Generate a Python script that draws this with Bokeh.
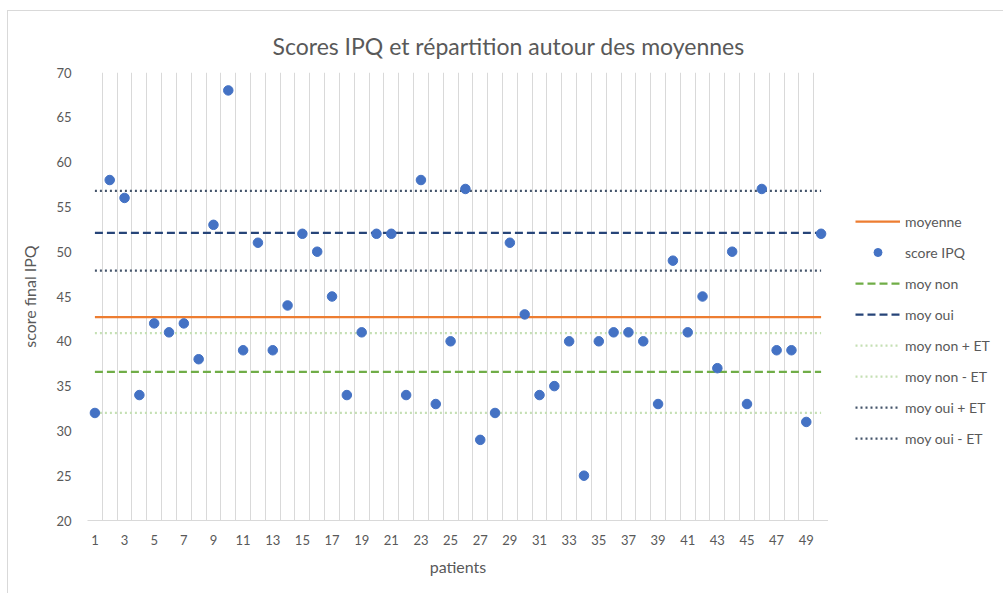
from bokeh.plotting import figure
from bokeh.layouts import row
from bokeh.models import FixedTicker, Legend, LegendItem
from bokeh.embed import file_html
from bokeh.resources import INLINE

patients = list(range(1, 51))
scores = [32, 58, 56, 34, 42, 41, 42, 38, 53, 68,
          39, 51, 39, 44, 52, 50, 45, 34, 41, 52,
          52, 34, 58, 33, 40, 57, 29, 32, 51, 43,
          34, 35, 40, 25, 40, 41, 41, 40, 33, 49,
          41, 45, 37, 50, 33, 57, 39, 39, 31, 52]
moyenne = 42.7
moy_non = 36.6
moy_oui = 52.1
moy_non_plus_et = 40.9
moy_non_moins_et = 32.0
moy_oui_plus_et = 56.8
moy_oui_moins_et = 47.9
x_tick_labels = [str(i) for i in range(1, 50, 2)]
y_ticks = list(range(20, 71, 5))
legend_labels = ["moyenne", "score IPQ", "moy non", "moy oui",
                 "moy non + ET", "moy non - ET", "moy oui + ET", "moy oui - ET"]

FONT = "Lato"
GRAY = "#595959"
H = 582

p = figure(width=820, height=H, output_backend="svg", toolbar_location=None,
           x_range=(0.5, 50.5), y_range=(20, 70),
           min_border_left=79, min_border_right=0, min_border_top=61, min_border_bottom=73,
           title="Scores IPQ et répartition autour des moyennes")
p.outline_line_color = None
p.background_fill_color = "white"
p.border_fill_color = "white"

p.title.align = "left"
p.title.offset = 185
p.title.text_font = FONT
p.title.text_font_size = "23px"
p.title.text_font_style = "normal"
p.title.text_color = GRAY
p.title.standoff = 26
p.title.text_line_height = 0.7

# x axis
p.xaxis.ticker = FixedTicker(ticks=list(range(1, 50, 2)))
p.xaxis.major_label_overrides = {i: lbl for i, lbl in zip(range(1, 50, 2), x_tick_labels)}
p.xaxis.axis_label = "patients"
p.xaxis.axis_line_color = "#d9d9d9"
p.xaxis.axis_line_width = 1
p.xaxis.major_tick_line_color = None
p.xaxis.minor_tick_line_color = None
p.xaxis.major_label_standoff = 8
p.xaxis.axis_label_standoff = 9

# y axis
p.yaxis.ticker = FixedTicker(ticks=y_ticks)
p.yaxis.axis_label = "score final IPQ"
p.yaxis.axis_line_color = None
p.yaxis.major_tick_line_color = None
p.yaxis.minor_tick_line_color = None
p.yaxis.major_label_standoff = 10
p.yaxis.axis_label_standoff = 14

for ax in (p.xaxis[0], p.yaxis[0]):
    ax.major_label_text_font = FONT
    ax.major_label_text_font_size = "13px"
    ax.major_label_text_color = GRAY
    ax.axis_label_text_font = FONT
    ax.axis_label_text_font_size = "16px"
    ax.axis_label_text_font_style = "normal"
    ax.axis_label_text_color = GRAY

p.ygrid.grid_line_color = None
p.xgrid.ticker = FixedTicker(ticks=[i + 0.5 for i in range(0, 51)])
p.xgrid.grid_line_color = "#d9d9d9"
p.xgrid.grid_line_width = 1

styles = [
    dict(kind="line", line_color="#ED7D31", line_width=2.25),
    dict(kind="dot", color="#4472C4"),
    dict(kind="line", line_color="#70AD47", line_width=2.25, line_dash="8 4"),
    dict(kind="line", line_color="#264478", line_width=2.25, line_dash="8 4"),
    dict(kind="line", line_color="#C5E0B4", line_width=2.25, line_dash="2 3"),
    dict(kind="line", line_color="#C5E0B4", line_width=2.25, line_dash="2 3"),
    dict(kind="line", line_color="#44546A", line_width=2.25, line_dash="2 3"),
    dict(kind="line", line_color="#44546A", line_width=2.25, line_dash="2 3"),
]
levels = [moyenne, None, moy_non, moy_oui, moy_non_plus_et, moy_non_moins_et,
          moy_oui_plus_et, moy_oui_moins_et]

n = len(patients)
draw_order = [4, 5, 6, 7, 0, 2, 3]
for i in draw_order:
    st = {k: v for k, v in styles[i].items() if k != "kind"}
    p.line(patients, [levels[i]] * n, **st)
p.scatter(patients, scores, size=9.5, color="#4472C4", line_color="#4472C4")

# legend panel (proxy renderers placed outside the visible range)
q = figure(width=175, height=H, output_backend="svg", toolbar_location=None,
           x_range=(0, 1), y_range=(0, 1), min_border=0)
q.axis.visible = False
q.grid.visible = False
q.outline_line_color = None
q.background_fill_color = "white"
q.border_fill_color = "white"
items = []
for lbl, st in zip(legend_labels, styles):
    kw = {k: v for k, v in st.items() if k != "kind"}
    if st["kind"] == "dot":
        r = q.scatter([-5], [-5], size=9.5, line_color=kw["color"], fill_color=kw["color"])
    else:
        r = q.line([-5, -4], [-5, -5], **kw)
    items.append(LegendItem(label=lbl, renderers=[r]))
legend = Legend(items=items, location=(27, 72), orientation="vertical",
                glyph_width=45, glyph_height=20, label_height=20, spacing=11,
                padding=0, margin=0, label_standoff=5,
                border_line_color=None, background_fill_alpha=0,
                label_text_font=FONT, label_text_font_size="14px", label_text_color=GRAY)
q.add_layout(legend, "center")

layout = row(p, q, styles={"border-top": "1px solid #d9d9d9", "border-left": "1px solid #d9d9d9",
                           "margin-left": "7px", "margin-top": "10px"})

open("out.html", "w").write(file_html(layout, INLINE))
